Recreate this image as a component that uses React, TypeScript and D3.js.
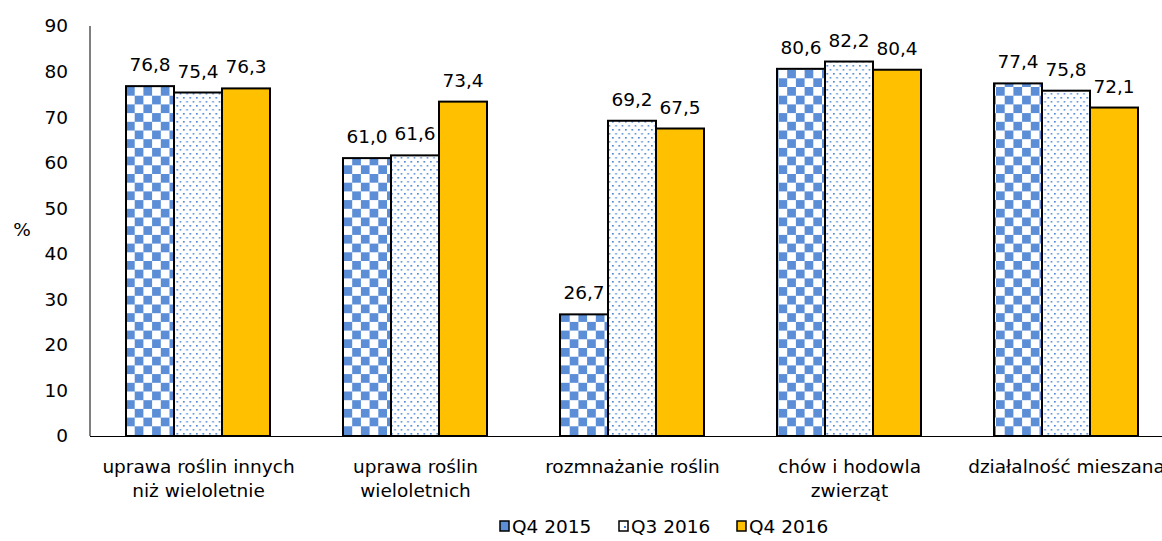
import React from "react";
import * as d3 from "d3";

const categories: string[][] = [
  ["uprawa roślin innych", "niż wieloletnie"],
  ["uprawa roślin", "wieloletnich"],
  ["rozmnażanie roślin"],
  ["chów i hodowla", "zwierząt"],
  ["działalność mieszana"],
];
const seriesNames = ["Q4 2015", "Q3 2016", "Q4 2016"];
const q4_2015 = [76.8, 61.0, 26.7, 80.6, 77.4];
const q3_2016 = [75.4, 61.6, 69.2, 82.2, 75.8];
const q4_2016 = [76.3, 73.4, 67.5, 80.4, 72.1];
const yTicks = [0, 10, 20, 30, 40, 50, 60, 70, 80, 90];

const W = 1162;
const H = 541;
const FONT = "'DejaVu Sans', Verdana, sans-serif";
const FS = 18.5;
const fills = ["url(#checker)", "url(#dots)", "#FFC000"];
const legendFills = ["#5B8ED6", "url(#dotsLegend)", "#FFC000"];

export default function App() {
  const left = 90;
  const bandW = 217;
  const x = d3
    .scaleBand<number>()
    .domain(d3.range(categories.length))
    .range([left, left + bandW * categories.length])
    .paddingInner(0)
    .paddingOuter(0);
  const inner = d3
    .scaleBand<number>()
    .domain([0, 1, 2])
    .range([36, 36 + 144]);
  const y = d3.scaleLinear().domain([0, 90]).range([436, 26]);
  const data = [q4_2015, q3_2016, q4_2016];
  const fmt = (v: number) => v.toFixed(1).replace(".", ",");

  const legendX = [500, 619, 737];

  return (
    <svg
      width={W}
      height={H}
      style={{ position: "absolute", left: 0, top: 0, background: "#fff" }}
      fontFamily={FONT}
    >
      <defs>
        <pattern id="checker" width="17.4" height="17.4" patternUnits="userSpaceOnUse" x="126" y="0">
          <rect width="17.4" height="17.4" fill="#fff" />
          <rect x="0" y="0" width="8.7" height="8.7" fill="#5B8ED6" />
          <rect x="8.7" y="8.7" width="8.7" height="8.7" fill="#5B8ED6" />
        </pattern>
        <pattern id="dots" width="6.5" height="8" patternUnits="userSpaceOnUse">
          <rect width="6.5" height="8" fill="#fff" />
          <rect x="1" y="1" width="1.6" height="1.6" fill="#3F7BD4" />
          <rect x="4.25" y="5" width="1.6" height="1.6" fill="#5A90DA" />
        </pattern>
        <pattern id="dotsLegend" width="9" height="10" patternUnits="userSpaceOnUse" x="619" y="521">
          <rect width="9" height="10" fill="#fff" />
          <rect x="5" y="5" width="2" height="2" fill="#3F7BD4" />
        </pattern>
      </defs>

      {/* y tick labels */}
      {yTicks.map((t) => (
        <text key={t} x={68} y={y(t)} dy="0.35em" textAnchor="end" fontSize={FS} fill="#000">
          {t}
        </text>
      ))}
      <text x={22} y={230} dy="0.35em" textAnchor="middle" fontSize={FS}>
        %
      </text>

      {/* bars */}
      {categories.map((_, ci) =>
        data.map((s, si) => {
          const bx = (x(ci) as number) + (inner(si) as number);
          const bw = inner.bandwidth();
          const by = y(s[ci]);
          return (
            <g key={`${ci}-${si}`}>
              <rect
                x={bx}
                y={by}
                width={bw}
                height={y(0) - by}
                fill={fills[si]}
                stroke="#000"
                strokeWidth={2}
              />
              <text x={bx + bw / 2} y={by - 15} textAnchor="middle" fontSize={FS} fill="#000">
                {fmt(s[ci])}
              </text>
            </g>
          );
        })
      )}

      {/* axes */}
      <line x1={left} x2={left} y1={26} y2={436} stroke="#000" strokeWidth={1} />
      <line x1={left} x2={W} y1={436.5} y2={436.5} stroke="#000" strokeWidth={1} />

      {/* category labels */}
      {categories.map((lines, ci) => {
        const cx = (x(ci) as number) + x.bandwidth() / 2;
        return (
          <text key={ci} textAnchor="middle" fontSize={FS} fill="#000">
            {lines.map((l, li) => (
              <tspan key={li} x={cx} y={473 + li * 24}>
                {l}
              </tspan>
            ))}
          </text>
        );
      })}

      {/* legend */}
      {seriesNames.map((n, i) => (
        <g key={n}>
          <rect
            x={legendX[i]}
            y={521}
            width={9}
            height={10}
            fill={legendFills[i]}
            stroke="#000"
            strokeWidth={1.5}
          />
          <text x={legendX[i] + 12} y={527} dy="0.35em" fontSize={FS} fill="#000">
            {n}
          </text>
        </g>
      ))}
    </svg>
  );
}
